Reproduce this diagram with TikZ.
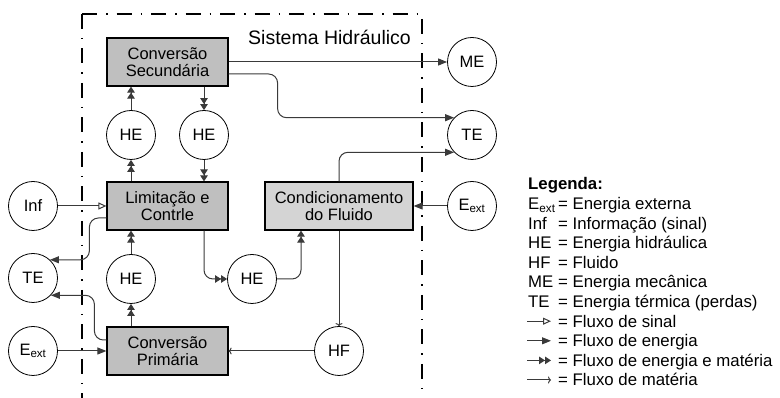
\documentclass[tikz,border=0pt]{standalone}
\usepackage{fontspec}
\setmainfont{Liberation Sans}
\usetikzlibrary{arrows.meta}

\definecolor{boxdark}{HTML}{BFBFBF}
\definecolor{boxlight}{HTML}{D4D4D4}
\definecolor{wire}{HTML}{3A3A3A}

\begin{document}
\begin{tikzpicture}[
	block/.style={draw, line width=1.2pt, fill=boxdark, minimum width=121pt, minimum height=48pt, inner sep=0pt, align=center, font=\fontsize{16.5}{17}\selectfont},
	port/.style={draw, circle, line width=0.8pt, minimum size=49pt, inner sep=0pt, font=\fontsize{16.5}{17}\selectfont},
	flow/.style={draw=wire, line width=1pt, rounded corners=9pt},
	sig/.style={flow, -{Triangle[open, length=8pt, width=7pt]}},
	energy/.style={flow, -{Triangle[length=9pt, width=7pt]}},
	energymat/.style={flow, -{Triangle[length=6pt, width=7.5pt] Triangle[length=6pt, width=7.5pt]}},
	mat/.style={flow, -{To[length=3pt, width=7pt]}},
	legtext/.style={anchor=base west, inner sep=0pt, font=\fontsize{16.8}{17}\selectfont},
]
	\useasboundingbox (0pt, 0pt) rectangle (780pt, 398pt);
	% system border
	\draw[line width=1.3pt, dash pattern=on 15pt off 9pt on 1.5pt off 9pt] (82pt, 384pt) -- (82pt, 0pt);
	\draw[line width=1.3pt, dash pattern=on 15pt off 9pt on 1.5pt off 9pt] (82pt, 384pt) -- (422pt, 384pt) -- (422pt, 0pt);
	\node[anchor=base east, inner sep=0pt, font=\fontsize{19.5}{20}\selectfont] (Sys) at (411pt, 353pt) {Sistema Hidráulico};
	% blocks
	\node[block] (ConvSec) at (167.5pt, 336pt) {Conversão\\Secundária};
	\node[block] (Lim) at (167.5pt, 192pt) {Limitação e\\Contrle};
	\node[block, fill=boxlight, minimum width=148pt] (Cond) at (339pt, 192pt) {Condicionamento\\do Fluido};
	\node[block] (ConvPrim) at (167.5pt, 47pt) {Conversão\\Primária};
	% energy and matter nodes
	\node[port] (HEa) at (131pt, 263pt) {HE};
	\node[port] (HEb) at (204pt, 263pt) {HE};
	\node[port] (HEc) at (131pt, 119pt) {HE};
	\node[port] (HEd) at (252pt, 119pt) {HE};
	\node[port] (HF) at (339pt, 47pt) {HF};
	\node[port] (Inf) at (33pt, 192pt) {Inf};
	\node[port] (TEa) at (33pt, 120pt) {TE};
	\node[port] (EextA) at (33pt, 47pt) {E\textsubscript{ext}};
	\node[port] (ME) at (472pt, 336pt) {ME};
	\node[port] (TEb) at (472pt, 263pt) {TE};
	\node[port] (EextB) at (472pt, 192pt) {E\textsubscript{ext}};
	% flows
	\draw[energy] (ConvSec.east) -- (ME.west);
	\draw[energy] ([yshift=-12pt]ConvSec.east) -- ++(49pt, 0pt) |- (TEb.136);
	\draw[energy] (Cond.north) |- (TEb.224);
	\draw[energy] (EextB.west) -- (Cond.east);
	\draw[energymat] (HEa.north) -- (HEa.north |- ConvSec.south);
	\draw[energymat] (Lim.north -| HEa) -- (HEa.south);
	\draw[energymat] (ConvSec.south -| HEb) -- (HEb.north);
	\draw[energymat] (HEb.south) -- (HEb.south |- Lim.north);
	\draw[sig] (Inf.east) -- (Lim.west);
	\draw[energy] ([yshift=-12pt]Lim.west) -- ++(-17pt, 0pt) |- (TEa.47);
	\draw[energy] ([yshift=11pt]ConvPrim.west) -- ++(-12pt, 0pt) |- (TEa.-44);
	\draw[energy] (EextA.east) -- (ConvPrim.west);
	\draw[energymat] (ConvPrim.north -| HEc) -- (HEc.south);
	\draw[energymat] (HEc.north) -- (HEc.north |- Lim.south);
	\draw[energymat] (Lim.south -| HEb) |- (HEd.west);
	\draw[energymat] (HEd.east) -| ([xshift=-38pt]Cond.south);
	\draw[mat] (Cond.south) -- (HF.north);
	\draw[mat] (HF.west) -- (ConvPrim.east);
	% legend
	\node[legtext, font=\fontsize{16.8}{17}\selectfont\bfseries] (Leg) at (528pt, 208pt) {Legenda:};
	\foreach \abbr/\txt [count=\i] in {E\textsubscript{ext}/Energia externa, Inf/Informação (sinal), HE/Energia hidráulica, HF/Fluido, ME/Energia mecânica, TE/Energia térmica (perdas)}{
		\node[legtext] (abbr\i) at (528pt, 208pt - \i*19.6pt) {\abbr};
		\node[legtext] (desc\i) at (558pt, 208pt - \i*19.6pt) {= \txt};
	}
	\foreach \sty/\txt [count=\i from 7] in {sig/Fluxo de sinal, energy/Fluxo de energia, energymat/Fluxo de energia e matéria, mat/Fluxo de matéria}{
		\coordinate (legA\i) at (527pt, 214pt - \i*19.6pt);
		\coordinate (legB\i) at (551pt, 214pt - \i*19.6pt);
		\draw[\sty] (legA\i) -- (legB\i);
		\node[legtext] (desc\i) at (558pt, 208pt - \i*19.6pt) {= \txt};
	}
\end{tikzpicture}
\end{document}
